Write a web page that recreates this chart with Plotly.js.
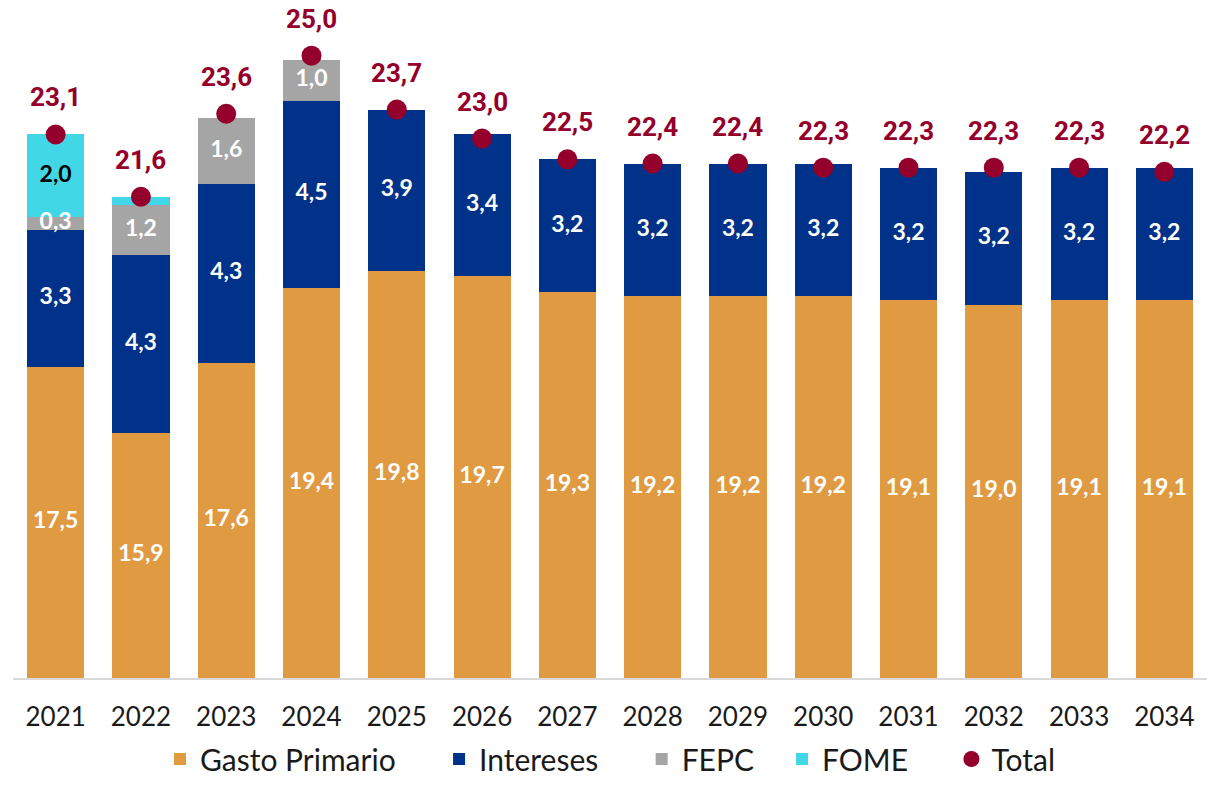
<!DOCTYPE html>
<html><head><meta charset="utf-8">
<script src="https://cdn.plot.ly/plotly-3.0.1.min.js"></script>
<style>html,body{margin:0;padding:0;background:#fff;}#chart{width:1213px;height:785px;}</style>
</head><body><div id="chart"></div>
<script>
const years = ['2021','2022','2023','2024','2025','2026','2027','2028','2029','2030','2031','2032','2033','2034'];
const gastoPrimario = [17.5,15.9,17.6,19.4,19.8,19.7,19.3,19.2,19.2,19.2,19.1,19.0,19.1,19.1];
const intereses = [3.3,4.3,4.3,4.5,3.9,3.4,3.2,3.2,3.2,3.2,3.2,3.2,3.2,3.2];
const fepc = [0.3,1.2,1.6,1.0,0,0,0,0,0,0,0,0,0,0];
const fome = [2.0,0.2,0,0,0,0,0,0,0,0,0,0,0,0];
const total = [23.1,21.6,23.6,25.0,23.7,23.0,22.5,22.4,22.4,22.3,22.3,22.3,22.3,22.2];
const fepcLabels = ['0,3','1,2','1,6','1,0','','','','','','','','','',''];
const fomeLabels = ['2,0','','','','','','','','','','','','',''];
const seriesNames = ['Gasto Primario','Intereses','FEPC','FOME','Total'];

const yMin = 10, yMax = 26.1;
const fmt = v => v.toFixed(1).replace('.', ',');
const pad = (s, n) => s + '\u00a0'.repeat(n);
const C = {gp:'#E09A42', int:'#003289', fepc:'#A5A5A5', fome:'#42D7E6', tot:'#94002B'};
const segFont = {family:'Lato, "Century Gothic", sans-serif', size:23, color:'#ffffff', weight:700};

function bar(name, y, color){
  return {type:'bar', name:name, x:years, y:y, marker:{color:color, line:{width:0}}, hoverinfo:'skip'};
}
function labels(y, text, color){
  return {type:'scatter', mode:'text', x:years, y:y, text:text, showlegend:false, hoverinfo:'skip',
    textfont:Object.assign({}, segFont, {color:color}), cliponaxis:false};
}
const gpMid = gastoPrimario.map(v => (yMin+v)/2);
const intMid = gastoPrimario.map((v,i) => v + intereses[i]/2);
const fepcMid = gastoPrimario.map((v,i) => v + intereses[i] + fepc[i]/2);
const fomeMid = gastoPrimario.map((v,i) => v + intereses[i] + fepc[i] + fome[i]/2);

const traces = [
  bar(pad(seriesNames[0],5), gastoPrimario, C.gp),
  bar(pad(seriesNames[1],5), intereses, C.int),
  bar(pad(seriesNames[2],3), fepc, C.fepc),
  bar(pad(seriesNames[3],5), fome, C.fome),
  {type:'scatter', mode:'markers', name:seriesNames[4], x:years, y:total, marker:{color:C.tot, size:20}, hoverinfo:'skip', cliponaxis:false},
  labels(gpMid, gastoPrimario.map(fmt), '#ffffff'),
  labels(intMid, intereses.map(fmt), '#ffffff'),
  labels(fepcMid, fepcLabels, '#ffffff'),
  labels(fomeMid, fomeLabels, '#000000')
];

const annotations = years.map((yr,i) => ({
  x: i, y: total[i], xref:'x', yref:'y', text: fmt(total[i]), showarrow:false, yshift:37, yanchor:'middle',
  font:{family:'Roboto, sans-serif', size:26, color:C.tot, weight:700}
}));

const layout = {
  width:1213, height:785,
  margin:{l:13, r:6, t:10, b:107, autoexpand:false},
  barmode:'stack', bargap:0.33,
  paper_bgcolor:'#ffffff', plot_bgcolor:'#ffffff',
  showlegend:true,
  legend:{orientation:'h', x:0.5, xanchor:'center', y:-0.1602, yanchor:'bottom', traceorder:'normal', borderwidth:0,
    font:{family:'Lato, "Century Gothic", sans-serif', size:30, color:'#1a1a1a'}},
  xaxis:{type:'category', range:[-0.5, 13.5], autorange:false, showline:true, linecolor:'#D9D9D9', linewidth:2, ticks:'', ticklabelstandoff:15,
    tickfont:{family:'Lato, "Century Gothic", sans-serif', size:26, color:'#1a1a1a'}, showgrid:false, fixedrange:true},
  yaxis:{range:[yMin, yMax], autorange:false, visible:false, showgrid:false, zeroline:false, fixedrange:true},
  annotations: annotations
};
Plotly.newPlot('chart', traces, layout, {displayModeBar:false, staticPlot:true});
</script></body></html>
